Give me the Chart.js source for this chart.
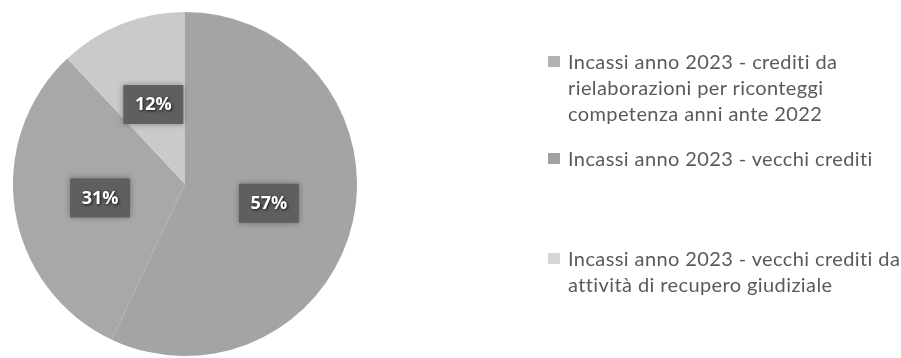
<!DOCTYPE html>
<html>
<head>
<meta charset="utf-8">
<script src="https://cdn.jsdelivr.net/npm/chart.js@4.4.1/dist/chart.umd.min.js"></script>
<style>
  html, body { margin: 0; padding: 0; background: #fff; }
  #wrap { position: relative; width: 901px; height: 358px; overflow: hidden; }
  #legend { position: absolute; left: 548px; top: 0; width: 353px; font-family: Lato, "Open Sans", sans-serif; font-size: 20px; letter-spacing: 0.4px; color: #5a5a5a; }
  .item { position: absolute; left: 0; padding-left: 20px; line-height: 26px; white-space: nowrap; }
  .box { position: absolute; left: 0; top: 8px; width: 12px; height: 11px; }
</style>
</head>
<body>
<div id="wrap">
  <canvas id="pie" width="901" height="358"></canvas>
  <div id="legend"></div>
</div>
<script>
  // chart data
  var categories = [
    ["Incassi anno 2023 - crediti da", "rielaborazioni per riconteggi", "competenza anni ante 2022"],
    ["Incassi anno 2023 - vecchi crediti"],
    ["Incassi anno 2023 - vecchi crediti da", "attività di recupero giudiziale"]
  ];
  var shares = [57, 31, 12];
  var sliceColors = ["#a4a4a4", "#a8a8a8", "#cacaca"];
  var legendColors = ["#b2b2b2", "#a2a2a2", "#d6d6d6"];

  // dark boxes with the percentage, placed at each arc's center point
  var pctLabels = {
    id: "pctLabels",
    afterDatasetsDraw: function (chart) {
      var ctx = chart.ctx;
      var meta = chart.getDatasetMeta(0);
      var total = shares.reduce(function (a, b) { return a + b; }, 0);
      meta.data.forEach(function (arc, i) {
        var p = arc.tooltipPosition();
        var txt = Math.round(shares[i] / total * 100) + "%";
        ctx.save();
        ctx.shadowColor = "rgba(0,0,0,0.35)";
        ctx.shadowBlur = 6;
        ctx.fillStyle = "#5f5f5f";
        ctx.fillRect(p.x - 30, p.y - 19, 60, 39);
        ctx.shadowColor = "rgba(0,0,0,0.8)";
        ctx.shadowBlur = 3;
        ctx.shadowOffsetX = 1;
        ctx.shadowOffsetY = 1;
        ctx.fillStyle = "#ffffff";
        ctx.font = "bold 18px 'Open Sans', sans-serif";
        ctx.textAlign = "center";
        ctx.textBaseline = "middle";
        ctx.fillText(txt, p.x, p.y + 1);
        ctx.restore();
      });
    }
  };

  var ctx = document.getElementById("pie").getContext("2d");
  var myChart = new Chart(ctx, {
    type: "pie",
    data: {
      labels: categories,
      datasets: [
        {
          data: shares,
          backgroundColor: sliceColors,
          borderWidth: 0
        }
      ]
    },
    options: {
      responsive: false,
      animation: false,
      layout: { padding: { left: 13, top: 12, right: 544, bottom: 2 } },
      plugins: {
        legend: { display: false },
        tooltip: { enabled: false }
      }
    },
    plugins: [pctLabels]
  });

  // html legend, one slot per entry
  var legendEl = document.getElementById("legend");
  var slotTops = [48, 145, 245];
  categories.forEach(function (lines, i) {
    var item = document.createElement("div");
    item.className = "item";
    item.style.top = slotTops[i] + "px";
    item.innerHTML = '<span class="box" style="background:' + legendColors[i] + '"></span>' + lines.join("<br>");
    legendEl.appendChild(item);
  });
</script>
</body>
</html>
